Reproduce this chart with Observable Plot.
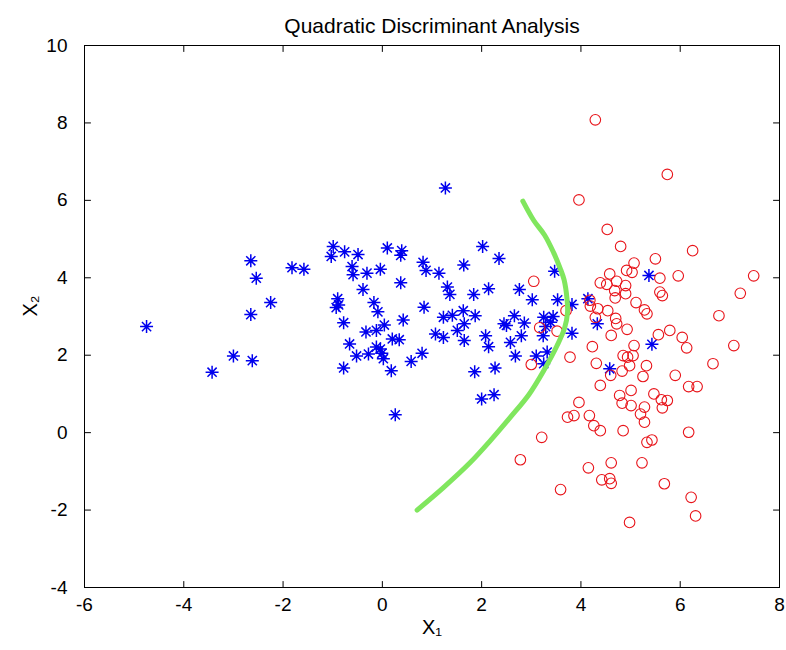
<!DOCTYPE html>
<html>
<head>
<meta charset="utf-8">
<script src="https://cdn.jsdelivr.net/npm/d3@7"></script>
<script src="https://cdn.jsdelivr.net/npm/@observablehq/plot@0.6"></script>
<style>
  html, body { margin: 0; padding: 0; background: #fff; }
  #chart svg { display: block; }
</style>
</head>
<body>
<div id="chart"></div>
<script>
// ---- data ----
const titleText = "Quadratic Discriminant Analysis";
const xLabel = "X\u2081";
const yLabel = "X\u2082";
const xTicks = [-6, -4, -2, 0, 2, 4, 6, 8];
const yTicks = [-4, -2, 0, 2, 4, 6, 8, 10];

// class 1 (blue asterisks)
const blueX = [-4.75,-3.43,-3.00,-2.62,-2.65,-2.25,-2.54,-2.65,-1.82,-1.58,
  1.27,-0.99,-1.03,-0.76,-0.49,0.10,0.39,0.37,-0.61,-0.59,
  -0.31,-0.04,-0.39,0.37,0.82,0.88,1.14,1.31,1.36,1.64,
  2.02,2.35,1.84,2.14,-0.90,-0.93,-0.88,-0.17,-0.09,0.84,
  -0.78,0.42,0.04,-0.33,-0.12,-0.66,-0.52,-0.28,-0.12,-0.04,
  -0.01,0.02,0.20,0.34,-0.78,0.18,0.58,0.80,1.07,1.23,
  1.23,1.41,1.63,1.87,1.65,1.51,1.65,2.08,2.14,1.86,
  2.27,2.00,2.25,0.26,2.76,3.02,2.45,2.50,2.66,2.86,
  2.58,2.80,2.68,3.10,3.25,3.24,3.32,3.25,3.47,3.53,
  3.82,4.14,4.33,3.82,3.44,3.39,3.29,4.58,5.37,5.43];
const blueY = [2.74,1.56,1.98,1.86,3.05,3.36,3.99,4.44,4.26,4.22,
  6.32,4.81,4.55,4.67,4.60,4.77,4.70,4.58,4.29,4.08,
  4.12,4.22,3.70,3.87,4.40,4.19,4.12,3.76,3.57,4.33,
  4.81,4.50,3.57,3.72,3.46,3.23,3.30,3.36,3.12,3.24,
  2.84,2.91,2.78,2.60,2.64,2.29,1.98,2.03,2.21,2.16,
  2.05,1.91,2.42,2.40,1.67,1.60,1.84,2.05,2.55,2.46,
  2.98,3.03,3.15,3.02,2.81,2.64,2.38,2.50,2.22,1.57,
  1.67,0.87,0.98,0.46,3.70,3.43,2.81,2.77,3.02,2.83,
  2.33,2.50,1.98,1.98,2.98,2.50,2.08,1.78,4.17,3.43,
  3.31,3.46,2.81,2.57,3.00,2.85,2.74,1.65,4.06,2.28];

// class 2 (red circles)
const redX = [4.29,5.74,3.96,4.53,4.80,6.25,5.50,5.07,4.92,5.03,
  4.58,4.39,4.52,4.72,4.90,4.68,4.90,4.69,5.11,5.59,
  5.96,7.48,7.21,6.78,5.59,5.64,3.05,4.18,4.19,4.34,
  4.54,4.29,4.70,4.72,5.28,5.33,4.93,5.79,5.56,3.70,
  3.17,3.52,4.61,6.04,6.13,7.08,4.23,5.07,4.85,4.94,
  5.05,4.98,5.32,4.31,4.83,4.60,5.25,5.90,6.66,6.17,
  6.34,4.39,5.01,4.78,4.83,5.01,5.28,5.47,5.62,5.74,
  5.64,5.20,5.28,3.96,3.73,3.86,4.17,4.26,4.39,4.85,
  5.33,5.43,6.17,3.21,2.78,4.15,4.61,5.23,4.42,4.58,
  4.61,5.68,3.59,6.22,6.31,4.98,3.78,3.00];
const redY = [8.08,6.67,6.01,5.25,4.81,4.70,4.49,4.38,4.19,4.14,
  4.10,3.87,3.83,3.91,3.80,3.67,3.59,3.48,3.36,3.99,
  4.05,4.05,3.60,3.02,3.63,3.54,3.91,3.42,3.27,3.20,
  3.15,2.98,2.95,2.81,3.17,3.07,2.67,2.64,2.53,3.15,
  2.71,2.62,2.51,2.46,2.19,2.25,2.22,2.25,1.99,1.95,
  1.99,1.73,1.73,1.79,1.59,1.48,1.45,1.48,1.78,1.19,
  1.19,1.22,1.09,0.96,0.76,0.70,0.66,1.00,0.85,0.83,
  0.64,0.48,0.27,0.78,0.40,0.44,0.44,0.18,0.05,0.05,
  -0.25,-0.19,0.01,-0.12,-0.70,-0.91,-0.78,-0.78,-1.22,-1.19,
  -1.31,-1.32,-1.47,-1.67,-2.15,-2.32,1.95,1.76];

// quadratic decision boundary (green curve)
const boundaryX = [0.70,1.23,1.78,2.18,2.58,2.95,3.25,3.52,3.67,3.73,3.72,3.66,3.58,3.45,3.27,3.05,2.83];
const boundaryY = [-2.00,-1.42,-0.76,-0.20,0.40,0.98,1.60,2.25,2.70,3.10,3.45,3.95,4.25,4.65,5.10,5.48,5.98];

// ---- build tables ----
const blue = blueX.map((x, i) => ({x, y: blueY[i]}));
const red = redX.map((x, i) => ({x, y: redY[i]}));
const boundary = boundaryX.map((x, i) => ({x, y: boundaryY[i]}));

// MATLAB-like asterisk (8 spokes)
const asterisk8 = {
  draw(context, size) {
    const r = Math.sqrt(size / Math.PI);
    const d = r * Math.SQRT1_2;
    context.moveTo(-r, 0); context.lineTo(r, 0);
    context.moveTo(0, -r); context.lineTo(0, r);
    context.moveTo(-d, -d); context.lineTo(d, d);
    context.moveTo(-d, d); context.lineTo(d, -d);
  }
};
// plain straight tick stroke for inward ticks
const tickShape = {
  draw(context, l) { context.moveTo(0, 0); context.lineTo(0, -l); }
};

const font = "'Liberation Sans', Arial, Helvetica, sans-serif";
const fmt = d => String(d);
const tickLen = 6;

const chart = Plot.plot({
  width: 786,
  height: 650,
  marginLeft: 84,
  marginRight: 7,
  marginTop: 45,
  marginBottom: 63,
  style: {fontFamily: font, fontSize: "19px", background: "#fff", color: "#000"},
  x: {domain: [-6, 8]},
  y: {domain: [-4, 10]},
  marks: [
    Plot.axisX({anchor: "bottom", ticks: xTicks, tickSize: 0, tickPadding: 10, tickFormat: fmt, label: null, fontSize: 19}),
    Plot.axisY({anchor: "left", ticks: yTicks, tickSize: 0, tickPadding: 17, tickFormat: fmt, label: null, fontSize: 19}),
    // inward ticks on all four sides
    Plot.vector(xTicks, {x: d => d, frameAnchor: "bottom", rotate: 0, anchor: "start", length: tickLen, shape: tickShape, stroke: "#000", strokeWidth: 1}),
    Plot.vector(xTicks, {x: d => d, frameAnchor: "top", rotate: 180, anchor: "start", length: tickLen, shape: tickShape, stroke: "#000", strokeWidth: 1}),
    Plot.vector(yTicks, {y: d => d, frameAnchor: "left", rotate: 90, anchor: "start", length: tickLen, shape: tickShape, stroke: "#000", strokeWidth: 1}),
    Plot.vector(yTicks, {y: d => d, frameAnchor: "right", rotate: -90, anchor: "start", length: tickLen, shape: tickShape, stroke: "#000", strokeWidth: 1}),
    Plot.dot(blue, {x: "x", y: "y", symbol: asterisk8, r: 6.5, stroke: "#0000ee", strokeWidth: 1.5, fill: "none"}),
    Plot.dot(red, {x: "x", y: "y", symbol: "circle", r: 5.3, stroke: "#e8141a", strokeWidth: 1.1, fill: "none"}),
    Plot.line(boundary, {x: "x", y: "y", curve: "catmull-rom", stroke: "#80e65e", strokeWidth: 5}),
    Plot.frame({stroke: "#000", strokeWidth: 1}),
    Plot.text([titleText], {frameAnchor: "top", dy: -27, fontSize: 21, fill: "#000"}),
    Plot.text([xLabel], {frameAnchor: "bottom", dy: 46, fontSize: 20, fill: "#000"}),
    Plot.text([yLabel], {frameAnchor: "left", dx: -54, rotate: -90, fontSize: 20, fill: "#000"})
  ]
});
document.getElementById("chart").appendChild(chart);
</script>
</body>
</html>
